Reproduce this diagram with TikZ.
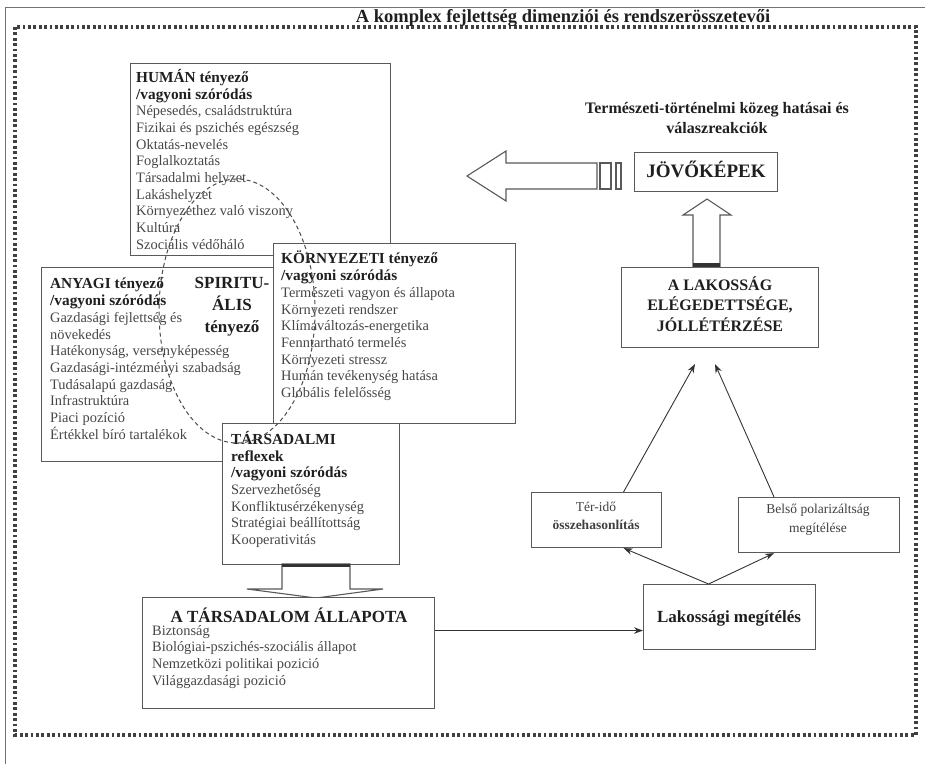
\documentclass[tikz,border=0pt]{standalone}
\usepackage{fontspec}
\setmainfont{Liberation Serif}
\usetikzlibrary{arrows.meta}

\newcommand{\headtxt}[1]{{\fontsize{15.3}{16.7}\selectfont\bfseries\color{black!88}#1}}

\begin{document}
\begin{tikzpicture}[x=1pt,y=-1pt,>={Stealth[length=9pt,width=6.5pt]},
  frame/.style={draw=black!65,line width=1.1pt,fill=white,inner sep=0pt,anchor=north west},
  item/.style={anchor=north west,inner sep=0pt,align=left,text=black!72,
    font=\fontsize{14.4}{16.7}\selectfont},
  bold text/.style={align=center,text=black!88,font=\fontsize{16}{20.5}\selectfont\bfseries},
  link/.style={->,draw=black!80,line width=0.9pt},
  hollow/.style={draw=black!65,line width=1.1pt,fill=white}]

  \useasboundingbox (0,0) rectangle (925,764);
  \draw[black!55,line width=0.8pt] (5,764) -- (5,7) -- (925,7);

  % outer dotted frame and title
  \draw[black!75,line width=3.2pt,dash pattern=on 2.8pt off 2.6pt] (15,27) rectangle (916,735);
  \node[text=black!88,font=\fontsize{18.5}{20}\selectfont\bfseries] (title) at (563,18)
    {A komplex fejlettség dimenziói és rendszerösszetevői};

  % factor boxes
  \node[frame,minimum width=260pt,minimum height=192pt] (human) at (130,63) {};
  \node[item] (human-t) at (136,69) {\headtxt{HUMÁN tényező}\\ \headtxt{/vagyoni szóródás}\\
    Népesedés, családstruktúra\\ Fizikai és pszichés egészség\\ Oktatás-nevelés\\
    Foglalkoztatás\\ Társadalmi helyzet\\ Lakáshelyzet\\ Környezethez való viszony\\
    Kultúra\\ Szociális védőháló};

  \node[frame,minimum width=259pt,minimum height=194pt] (anyagi) at (41,267) {};
  \node[item] (anyagi-t) at (50,278) {\headtxt{ANYAGI tényező}\\ \headtxt{/vagyoni szóródás}\\
    Gazdasági fejlettség és\\ növekedés\\ Hatékonyság, versenyképesség\\
    Gazdasági-intézményi szabadság\\ Tudásalapú gazdaság\\ Infrastruktúra\\
    Piaci pozíció\\ Értékkel bíró tartalékok};

  \node[frame,minimum width=242pt,minimum height=180pt] (korny) at (273,243) {};
  \node[item] (korny-t) at (281,251) {\headtxt{KÖRNYEZETI tényező}\\ \headtxt{/vagyoni szóródás}\\
    Természeti vagyon és állapota\\ Környezeti rendszer\\ Klímaváltozás-energetika\\
    Fenntartható termelés\\ Környezeti stressz\\ Humán tevékenység hatása\\
    Globális felelősség};

  \node[frame,minimum width=177pt,minimum height=141pt] (tars) at (222,423) {};
  \node[item] (tars-t) at (231,431) {\headtxt{TÁRSADALMI}\\ \headtxt{reflexek}\\
    \headtxt{/vagyoni szóródás}\\ Szervezhetőség\\ Konfliktusérzékenység\\
    Stratégiai beállítottság\\ Kooperativitás};

  % spiritual factor
  \draw[black!70,line width=1pt,dash pattern=on 4pt off 3pt] (237,311) ellipse [x radius=78pt,y radius=132pt];
  \node[bold text,font=\fontsize{17}{22}\selectfont\bfseries] (spirit) at (232,307) {SPIRITU-\\ ÁLIS\\ tényező};

  % hollow arrow down
  \draw[hollow] (282,564) -- (282,589) -- (247,589) -- (316,598) -- (383,589) -- (350,589) -- (350,564) -- cycle;
  \draw[black!80,line width=3pt] (282,565.5) -- (350,565.5);

  \node[frame,minimum width=292pt,minimum height=111pt] (allapot) at (142,597) {};
  \node[bold text,font=\fontsize{17}{20}\selectfont\bfseries] (allapot-h) at (289,615) {A TÁRSADALOM ÁLLAPOTA};
  \node[item] (allapot-t) at (152,625) {Biztonság\\ Biológiai-pszichés-szociális állapot\\
    Nemzetközi politikai pozició\\ Világgazdasági pozició};

  % right side
  \node[frame,minimum width=172pt,minimum height=65pt] (lakmeg) at (643,584) {};
  \node[bold text,font=\fontsize{17}{20}\selectfont\bfseries] (lakmeg-t) at (729,618) {Lakossági megítélés};

  \node[frame,minimum width=130pt,minimum height=55pt] (terido) at (531,492) {};
  \node[align=center,text=black!75,font=\fontsize{13.5}{18.5}\selectfont] (terido-t) at (596,516)
    {Tér-idő\\ \textbf{összehasonlítás}};

  \node[frame,minimum width=161pt,minimum height=55pt] (belso) at (738,497) {};
  \node[align=center,text=black!75,font=\fontsize{13.5}{18.5}\selectfont] (belso-t) at (818,520)
    {Belső polarizáltság\\ megítélése};

  \node[frame,minimum width=197pt,minimum height=80pt] (lakossag) at (621,267) {};
  \node[bold text] (lakossag-t) at (720,304) {A LAKOSSÁG\\ ELÉGEDETTSÉGE,\\ JÓLLÉTÉRZÉSE};

  \node[frame,minimum width=143pt,minimum height=39pt] (jovo) at (634,152) {};
  \node[bold text,font=\fontsize{19}{20}\selectfont\bfseries] (jovo-t) at (706,169) {JÖVŐKÉPEK};

  \node[bold text] (kozeg) at (717,118) {Természeti-történelmi közeg hatásai és\\ válaszreakciók};

  % hollow arrow up
  \draw[hollow] (693,267) -- (693,215) -- (683,215) -- (707,199) -- (731,215) -- (720,215) -- (720,267);
  \draw[black!80,line width=4pt] (693,265) -- (720,265);

  % striped hollow arrow left
  \draw[hollow] (597,163) -- (506,163) -- (506,151) -- (467,176) -- (506,201) -- (506,189) -- (597,189) -- cycle;
  \draw[hollow] (600,163) rectangle (611,189);
  \draw[hollow] (616,163) rectangle (621,189);

  % connectors
  \coordinate (lk-l) at (695,364);
  \coordinate (lk-r) at (715,364);
  \draw[link] ([yshift=22.5pt]allapot.east) -- ([yshift=22.5pt]allapot.east -| lakmeg.west);
  \draw[link] ([xshift=-21pt]lakmeg.north) -- ([xshift=27pt]terido.south);
  \draw[link] ([xshift=-21pt]lakmeg.north) -- ([xshift=-45pt]belso.south);
  \draw[link] ([xshift=27pt]terido.north) -- (lk-l);
  \draw[link] ([xshift=-45pt]belso.north) -- (lk-r);
\end{tikzpicture}
\end{document}
